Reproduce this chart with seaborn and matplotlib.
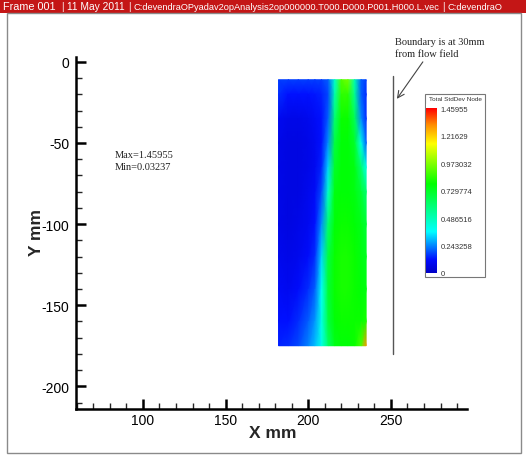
import numpy as np
import matplotlib
matplotlib.use("Agg")
import matplotlib.pyplot as plt
import seaborn as sns
from matplotlib.colors import LinearSegmentedColormap
from matplotlib.patches import Rectangle

# ---- data: total std-dev of velocity on the measurement plane ----
x_nodes = [182, 188, 194, 200, 204, 208, 212, 216, 220, 224, 228, 232, 235]
y_nodes = [-11, -20, -35, -50, -65, -80, -100, -120, -140, -160, -175]
stddev = [
    [.17, .17, .17, .17, .17, .17, .20, .45, .90, .95, .50, .20, .17],
    [.15, .12, .12, .12, .13, .14, .18, .50, .85, .85, .55, .20, .15],
    [.09, .07, .07, .08, .10, .12, .20, .60, .80, .80, .65, .25, .15],
    [.07, .06, .06, .07, .09, .12, .25, .68, .78, .78, .72, .40, .20],
    [.07, .06, .06, .07, .09, .14, .32, .72, .78, .78, .76, .60, .40],
    [.07, .06, .06, .08, .10, .18, .45, .76, .78, .78, .76, .70, .60],
    [.07, .06, .07, .09, .12, .25, .60, .78, .80, .80, .78, .75, .70],
    [.08, .07, .08, .11, .15, .32, .68, .80, .82, .82, .80, .76, .74],
    [.10, .09, .11, .15, .20, .38, .70, .80, .82, .82, .80, .78, .76],
    [.12, .12, .15, .20, .26, .40, .68, .78, .80, .80, .80, .80, .82],
    [.14, .15, .18, .24, .30, .40, .62, .75, .78, .78, .80, .90, 1.30],
]
level_max = 1.45955
level_ticks = [0, 0.243258, 0.486516, 0.729774, 0.973032, 1.21629, 1.45955]
level_labels = ["0", "0.243258", "0.486516", "0.729774", "0.973032", "1.21629", "1.45955"]
boundary_x = 251
boundary_y = [-9, -180]

# header pieces: (left edge in px, text, font size)
header_parts = [
    (3, "Frame 001", 7.8),
    (61, "|", 7.0),
    (67, "11 May 2011", 7.4),
    (128, "|", 7.0),
    (134, "C:devendraOPyadav2opAnalysis2op000000.T000.D000.P001.H000.L.vec", 6.65),
    (442, "|", 7.0),
    (448, "C:devendraO", 6.65),
]

# ---- style ----
sns.set_style("ticks")
plt.rcParams["font.family"] = ["Liberation Sans", "DejaVu Sans"]
plt.rcParams["axes.unicode_minus"] = False

rainbow = LinearSegmentedColormap.from_list(
    "rainbow_tp",
    [(0.0, (0, 0, 0.78)), (0.08, (0, 0.05, 1)), (0.25, (0, 1, 1)),
     (0.54, (0, 1, 0)), (0.785, (1, 1, 0)), (0.9, (1, 0.55, 0)), (1.0, (1, 0, 0))])

W, H = 526, 460
fig = plt.figure(figsize=(W / 100, H / 100), dpi=100)
fig.patch.set_facecolor("white")

def fx(px):
    return px / W

def fy(py):
    return 1 - py / H

# header bar and frame
fig.add_artist(Rectangle((0, fy(14)), 1, 14 / H, transform=fig.transFigure,
                         facecolor="#c41616", edgecolor="none", zorder=0))
for left, txt, size in header_parts:
    fig.text(fx(left), fy(7), txt, color="white", fontsize=size,
             va="center", ha="left")
fig.add_artist(Rectangle((fx(7), fy(454)), (521 - 7) / W, (454 - 14) / H,
                         transform=fig.transFigure, facecolor="none",
                         edgecolor="#8a8a8a", lw=1.0))

# main axes
ax = fig.add_axes([fx(76), fy(410), (467 - 76) / W, (410 - 58) / H])
ax.set_facecolor("none")
ax.pcolormesh(x_nodes, y_nodes, np.array(stddev), cmap=rainbow, vmin=0,
              vmax=level_max, shading="gouraud", zorder=1)
ax.plot([boundary_x, boundary_x], boundary_y, color="#555555", lw=1.0, zorder=2)

ax.set_xlim(59.5, 296)
ax.set_ylim(-214, 3)
ax.set_xticks([100, 150, 200, 250])
ax.set_yticks([0, -50, -100, -150, -200])
ax.set_xticks(np.arange(60, 300, 10), minor=True)
ax.set_yticks(np.arange(-210, 1, 10), minor=True)
sns.despine(ax=ax)
for s in ("left", "bottom"):
    ax.spines[s].set_linewidth(1.8)
    ax.spines[s].set_color("black")
ax.tick_params(which="major", direction="in", length=7, width=1.8,
               labelsize=10, colors="black")
ax.tick_params(axis="y", which="major", pad=5)
ax.tick_params(axis="x", which="major", pad=3)
ax.tick_params(which="minor", direction="in", length=4, width=1.0)

ax.set_xlabel("X mm", fontsize=12.5, fontweight="bold")
ax.set_ylabel("Y mm", fontsize=12.5, fontweight="bold")
ax.xaxis.set_label_coords(0.504, -0.045)
ax.yaxis.set_label_coords(-0.083, 0.505)

# notes
fig.text(fx(115), fy(151), "Max=1.45955\nMin=0.03237", family="Liberation Serif",
         fontsize=7.5, va="top", ha="left", linespacing=1.45, color="#222222")
fig.text(fx(395), fy(38), "Boundary is at 30mm\nfrom flow field", family="Liberation Serif",
         fontsize=7.5, va="top", ha="left", linespacing=1.4, color="#222222")
ax.annotate("", xy=(253.6, -22.8), xytext=(269.3, 0), xycoords="data",
            textcoords="data", annotation_clip=False,
            arrowprops=dict(arrowstyle="->", color="#444444", lw=0.8,
                            mutation_scale=12, shrinkA=0, shrinkB=0))

# legend box with colour scale
fig.add_artist(Rectangle((fx(425), fy(278)), 60 / W, (278 - 95) / H,
                         transform=fig.transFigure, facecolor="white",
                         edgecolor="#777777", lw=0.8, zorder=3))
fig.text(fx(455), fy(97.5), "Total StdDev Node", fontsize=4.6, ha="center",
         va="top", color="#333333", zorder=4)
cax = fig.add_axes([fx(426), fy(276), 10 / W, (276 - 105) / H], zorder=5)
grad = np.linspace(0, level_max, 256).reshape(-1, 1)
cax.imshow(grad, cmap=rainbow, vmin=0, vmax=level_max, aspect="auto",
           origin="lower", extent=(0, 1, 0, level_max))
cax.set_xlim(0, 1)
cax.set_ylim(-0.018, 1.50)
cax.set_xticks([])
cax.yaxis.tick_right()
cax.set_yticks(level_ticks)
cax.set_yticklabels(level_labels)
cax.tick_params(axis="y", length=0, pad=3.5, labelsize=5.5, colors="#333333")
for s in cax.spines.values():
    s.set_visible(False)

fig.savefig("out.png", dpi=100)
